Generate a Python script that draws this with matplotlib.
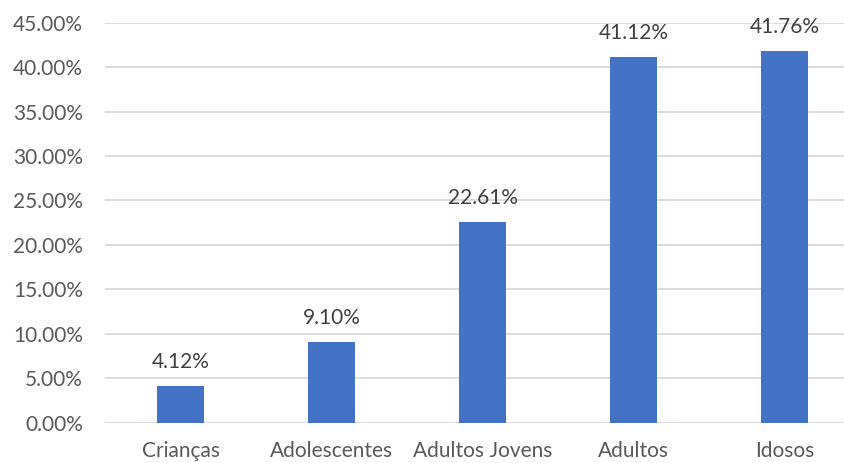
import matplotlib.pyplot as plt
import numpy as np
from matplotlib.ticker import FuncFormatter, MultipleLocator

plt.rcParams["font.family"] = ["Lato", "DejaVu Sans"]

categories = ["Crianças", "Adolescentes", "Adultos Jovens", "Adultos", "Idosos"]
shares = [4.12, 9.10, 22.61, 41.12, 41.76]  # percent

BAR_COLOR = "#4472C4"
GRID_COLOR = "#D9D9D9"
TICK_COLOR = "#595959"
LABEL_COLOR = "#404040"

fig = plt.figure(figsize=(8.45, 4.63), dpi=100)
ax = fig.add_axes([0.1243, 0.0864, 0.8935, 0.865])

x = np.arange(len(categories))
bars = ax.bar(x, shares, width=0.31, color=BAR_COLOR, zorder=3)

for bar, value in zip(bars, shares):
    ax.annotate(f"{value:.2f}%", (bar.get_x() + bar.get_width() / 2, value),
                xytext=(0, 10), textcoords="offset points",
                ha="center", va="bottom", fontsize=15, color=LABEL_COLOR)

ax.set_xlim(-0.5, len(categories) - 0.5)
ax.set_ylim(0, 45)
ax.yaxis.set_major_locator(MultipleLocator(5))
ax.yaxis.set_major_formatter(FuncFormatter(lambda v, _: f"{v:.2f}%"))
ax.set_xticks(x, categories)

ax.grid(axis="y", color=GRID_COLOR, linewidth=1.3, zorder=0)
ax.set_axisbelow(True)
for spine in ax.spines.values():
    spine.set_visible(False)
ax.tick_params(axis="y", length=0, pad=16, labelsize=15, labelcolor=TICK_COLOR)
ax.tick_params(axis="x", length=0, pad=13, labelsize=15, labelcolor=TICK_COLOR)

fig.savefig("out.png", dpi=100)
plt.close(fig)
